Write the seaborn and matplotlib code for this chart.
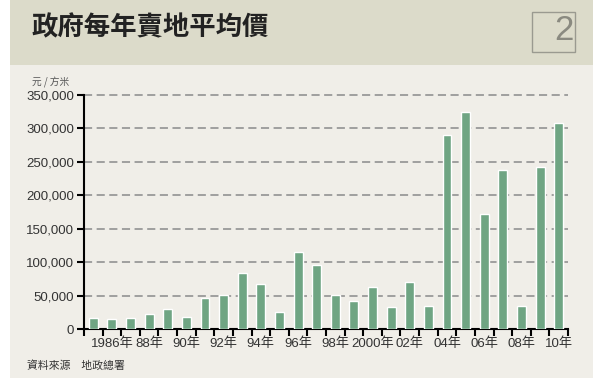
import matplotlib
matplotlib.use("Agg")
import matplotlib.pyplot as plt
import seaborn as sns
import pandas as pd
from matplotlib.patches import Rectangle

years = list(range(1985, 2011))
prices = [16000, 14500, 17000, 22000, 30000, 18000, 47000, 51000, 84000, 68000,
          25000, 115000, 95000, 51000, 42000, 63000, 33000, 71000, 34000, 289500,
          324000, 172000, 238000, 34000, 242000, 307500]
tick_labels = ["1986年", "88年", "90年", "92年", "94年", "96年", "98年", "2000年",
               "02年", "04年", "06年", "08年", "10年"]
y_ticks = [0, 50000, 100000, 150000, 200000, 250000, 300000, 350000]
title = "政府每年賣地平均價"
unit = "元 / 方米"
source = "資料來源　地政總署"

sns.set_theme(style="white")
plt.rcParams['font.family'] = ['Liberation Sans', 'Noto Sans CJK TC', 'DejaVu Sans']

df = pd.DataFrame({"year": [str(y) for y in years], "price": prices})

fig = plt.figure(figsize=(6, 3.78), dpi=100)
fig.patch.set_facecolor("white")

# background panels
fig.patches.append(Rectangle((10/600, 0), 583/600, 1 - 65/378, transform=fig.transFigure,
                             facecolor="#f0eee8", edgecolor="none", zorder=-2))
fig.patches.append(Rectangle((10/600, 1 - 65/378), 583/600, 65/378, transform=fig.transFigure,
                             facecolor="#dcdbca", edgecolor="none", zorder=-1))
fig.patches.append(Rectangle((532/600, 1 - 52/378), 43/600, 40/378, transform=fig.transFigure,
                             facecolor="none", edgecolor="#9a9a90", linewidth=1.0, zorder=1))
fig.text(574/600, 1 - 31/378, "2", ha="right", va="center", fontsize=25,
         color="#8a8a80", family=['Liberation Sans'])
fig.text(32/600, 1 - 28/378, title, ha="left", va="center", fontsize=19,
         fontweight="bold", color="#222222", family=['Noto Sans CJK TC'])
fig.text(32/600, 1 - 82/378, unit, ha="left", va="center", fontsize=7,
         color="#555555", family=['Noto Sans CJK TC', 'DejaVu Sans'])
fig.text(27/600, 1 - 366/378, source, ha="left", va="center", fontsize=7.8,
         color="#333333", family=['Noto Sans CJK TC', 'DejaVu Sans'])

ax = fig.add_axes([84/600, 1 - 329/378, 484/600, 234/378])
ax.set_facecolor("none")
sns.barplot(data=df, x="year", y="price", color="#6fa583", saturation=1,
            width=0.48, ax=ax, zorder=3)
ax.set_xlim(-0.5, len(years) - 0.5)
ax.set_ylim(0, 350000)
ax.set_xlabel("")
ax.set_ylabel("")

for v in y_ticks[1:]:
    ax.axhline(v, color="#999999", linestyle=(0, (4.5, 2.5)), linewidth=1.3,
               zorder=1, clip_on=False)

ax.set_yticks(y_ticks)
ax.set_yticklabels([f"{v:,}" for v in y_ticks], fontsize=9.5, color="#333333")
ax.set_xticks([i - 0.5 for i in range(len(years) + 1)])
ax.set_xticklabels([])
ax.set_xticks(list(range(1, len(years), 2)), minor=True)
ax.set_xticklabels(tick_labels, minor=True, fontsize=9.5, color="#333333")
ax.tick_params(axis="x", which="major", direction="out", length=5, width=1.5,
               color="black", bottom=True)
ax.tick_params(axis="x", which="minor", length=0, pad=6, bottom=True)
ax.tick_params(axis="y", direction="out", length=5, width=1.5, color="black", left=True, pad=2)

for s in ["top", "right"]:
    ax.spines[s].set_visible(False)
for s in ["left", "bottom"]:
    ax.spines[s].set_color("black")
    ax.spines[s].set_linewidth(1.5)

fig.savefig("out.png", dpi=100)
